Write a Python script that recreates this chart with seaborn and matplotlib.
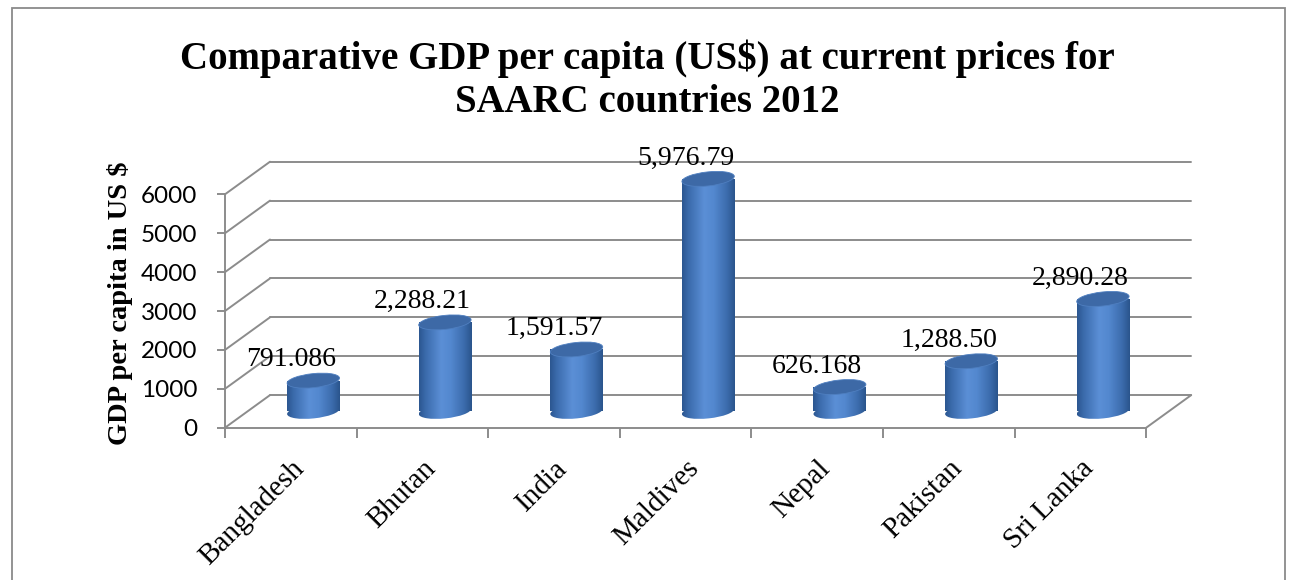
import numpy as np
import pandas as pd
import seaborn as sns
import matplotlib
matplotlib.use("Agg")
import matplotlib.pyplot as plt
from matplotlib.patches import Ellipse, Rectangle
from matplotlib.colors import LinearSegmentedColormap
from matplotlib.transforms import IdentityTransform

countries = ["Bangladesh", "Bhutan", "India", "Maldives", "Nepal", "Pakistan", "Sri Lanka"]
gdp = [791.086, 2288.21, 1591.57, 5976.79, 626.168, 1288.50, 2890.28]
value_labels = ["791.086", "2,288.21", "1,591.57", "5,976.79", "626.168", "1,288.50", "2,890.28"]
y_ticks = [0, 1000, 2000, 3000, 4000, 5000, 6000]
title = "Comparative GDP per capita (US$) at current prices for\nSAARC countries 2012"
y_label = "GDP per capita in US $"

sns.set_theme(style="white")
plt.rcParams['font.family'] = ['Liberation Serif', 'DejaVu Serif']
plt.rcParams['text.color'] = 'black'
plt.rcParams['xtick.color'] = 'black'
plt.rcParams['ytick.color'] = 'black'

W, H = 1291, 580
fig = plt.figure(figsize=(W / 100, H / 100), dpi=100)
fig.patch.set_facecolor("white")

# frame
fig.patches.append(Rectangle((12 / W, -0.02), (1285 - 12) / W, 1.0 - 8 / H + 0.02,
                             transform=fig.transFigure, fill=False, ec="#8a8a8a", lw=1.3))

n = len(countries)
dx = 0.342
dy = 838.0
xl, xr = -0.5, n - 0.5 + 0.36
ylo, yhi = 0, 7000
px_per_cat = 131.6
y0_px = 427.7
px_per_k = 38.9
ax = fig.add_axes([225 / W, (H - y0_px) / H, (xr - xl) * px_per_cat / W,
                   (yhi / 1000) * px_per_k / H])
ax.set_facecolor("none")

df = pd.DataFrame({"country": countries, "gdp": gdp})
bar_w = 0.40
sns.barplot(data=df, x="country", y="gdp", ax=ax, width=bar_w, bottom=dy / 2,
            color="#4a7cc0", saturation=1, linewidth=0, zorder=3)

grid_c = "#8c8c8c"
for v in y_ticks:
    ax.plot([xl, xl + dx], [v, v + dy], color=grid_c, lw=1.4, zorder=1, clip_on=False)
    ax.plot([xl + dx, n - 0.5 + dx], [v + dy, v + dy], color=grid_c, lw=1.4, zorder=1, clip_on=False)
ax.plot([n - 0.5, n - 0.5 + dx], [0, dy], color=grid_c, lw=1.4, zorder=1, clip_on=False)

ax.set_xlim(xl, xr)
ax.set_ylim(ylo, yhi)

cmap = LinearSegmentedColormap.from_list("cyl", [
    (0.0, "#2b5690"), (0.12, "#3a6aab"), (0.42, "#5b8fd6"), (0.6, "#5388cf"),
    (0.85, "#3c6cad"), (1.0, "#2a548c")])
grad = np.linspace(0, 1, 256).reshape(1, -1)
ell_px = 14.0
tilt = 6
for p in list(ax.patches):
    p.set_x(p.get_x() + dx / 2)
    x0 = p.get_x(); w = p.get_width(); b = p.get_y(); h = p.get_height()
    p.set_facecolor("none")
    im = ax.imshow(grad, cmap=cmap, aspect="auto", extent=[x0, x0 + w, b, b + h],
                   zorder=3, interpolation="bilinear")
    im.set_clip_path(p)
    (lx, by), (rx, ty) = ax.transData.transform([(x0, b), (x0 + w, b + h)])
    wpx = rx - lx
    cxp = (lx + rx) / 2
    bot = Ellipse((cxp, by), wpx, ell_px, angle=tilt, transform=IdentityTransform(),
                  fc="none", ec="none")
    ax.add_patch(bot)
    ell_d = ell_px / px_per_k * 1000
    im2 = ax.imshow(grad, cmap=cmap, aspect="auto",
                    extent=[x0, x0 + w, b - ell_d, b + ell_d],
                    zorder=2.9, interpolation="bilinear")
    im2.set_clip_path(bot)
    top = Ellipse((cxp, ty), wpx, ell_px, angle=tilt, transform=IdentityTransform(),
                  fc="#3d69a6", ec="#4f7fc0", lw=0.6, zorder=4)
    ax.add_patch(top)

for i, (v, lab) in enumerate(zip(gdp, value_labels)):
    ax.annotate(lab, xy=(i, v), xytext=(0, 37), textcoords="offset pixels",
                ha="center", va="center", fontsize=20, color="black", zorder=6,
                annotation_clip=False)

ax.set_yticks(y_ticks)
ax.set_yticklabels([str(t) for t in y_ticks], fontsize=17.5, family=["Lato", "DejaVu Sans"])
ax.set_xticks(range(n))
ax.set_xticklabels(countries, rotation=45, ha="right", rotation_mode="anchor", fontsize=21)
ax.set_xticks(np.arange(n + 1) - 0.5, minor=True)
ax.tick_params(axis="x", which="major", length=0, pad=20)
ax.tick_params(axis="x", which="minor", length=7, width=1.4, color=grid_c, direction="out", bottom=True)
ax.tick_params(axis="y", length=6, width=1.4, color=grid_c, labelcolor="black",
               direction="out", left=True, pad=14)
ax.set_xlabel("")
ax.set_ylabel("")
for s in ["top", "right"]:
    ax.spines[s].set_visible(False)
ax.spines["left"].set_bounds(0, 6000)
ax.spines["bottom"].set_bounds(-0.5, n - 0.5)
for s in ["left", "bottom"]:
    ax.spines[s].set_color(grid_c)
    ax.spines[s].set_linewidth(1.4)
ax.grid(False)

fig.text(120 / W, 1 - 303 / H, y_label, rotation=90, ha="center", va="center",
         fontsize=20.5, fontweight="bold", color="black")
fig.text(647 / W, 1 - 80 / H, title, ha="center", va="center", fontsize=28,
         fontweight="bold", linespacing=1.2, color="black")

fig.savefig("out.png", dpi=100, facecolor="white")
